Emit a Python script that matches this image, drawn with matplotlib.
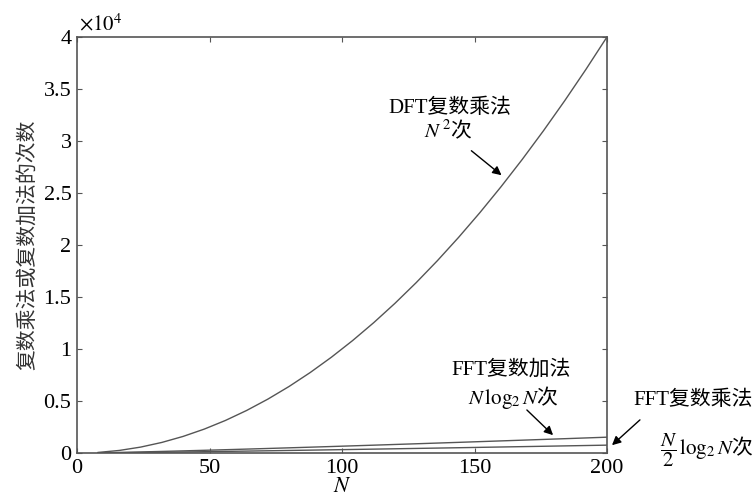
import matplotlib
matplotlib.use("Agg")
import matplotlib.pyplot as plt

plt.rcParams['font.family'] = ['Liberation Serif', 'Noto Sans CJK SC']
plt.rcParams['mathtext.fontset'] = 'stix'

N = [8, 16, 24, 32, 40, 48, 56, 64, 72, 80, 88, 96, 104, 112, 120, 128,
     136, 144, 152, 160, 168, 176, 184, 192, 200]
dft_mul = [64, 256, 576, 1024, 1600, 2304, 3136, 4096, 5184, 6400, 7744,
           9216, 10816, 12544, 14400, 16384, 18496, 20736, 23104, 25600,
           28224, 30976, 33856, 36864, 40000]
fft_add = [24, 64, 110, 160, 213, 268, 325, 384, 444, 506, 568, 632, 697,
           762, 829, 896, 964, 1032, 1102, 1172, 1242, 1313, 1384, 1456, 1529]
fft_mul = [12, 32, 55, 80, 106, 134, 163, 192, 222, 253, 284, 316, 348,
           381, 414, 448, 482, 516, 551, 586, 621, 656, 692, 728, 764]

xticks = [0, 50, 100, 150, 200]
yticks = [0, 5000, 10000, 15000, 20000, 25000, 30000, 35000, 40000]
yticklabels = ['0', '0.5', '1', '1.5', '2', '2.5', '3', '3.5', '4']

col = '#555555'
cjk = 'Noto Sans CJK SC'
fig = plt.figure(figsize=(7.55, 4.99), dpi=100)
ax = fig.add_axes([0.102, 0.092, 0.702, 0.834])
ax.plot(N, dft_mul, color=col, lw=1.0)
ax.plot(N, fft_add, color=col, lw=1.0)
ax.plot(N, fft_mul, color=col, lw=1.0)
ax.set_xlim(0, 200)
ax.set_ylim(0, 40000)
ax.set_xticks(xticks)
ax.set_yticks(yticks)
ax.set_yticklabels(yticklabels)
ax.tick_params(direction='in', length=3.5, color=col, labelsize=16, pad=4,
               top=True, right=True)
for s in ax.spines.values():
    s.set_color(col)
    s.set_linewidth(1.2)

ax.text(0.003, 1.003, r'$\times 10^4$', transform=ax.transAxes, fontsize=15,
        ha='left', va='bottom')
ax.set_xlabel('$N$', fontsize=16, labelpad=0)
ax.set_ylabel('复数乘法或复数加法的次数', fontsize=15, labelpad=4, color='#333333')

arrow = dict(arrowstyle='-|>', color='black', lw=1.0, mutation_scale=13)
ax.annotate('', xy=(161, 26540), xytext=(148, 29230), arrowprops=arrow)
ax.text(140.8, 33170, 'DFT复数乘法', fontsize=15, ha='center', va='center')
ax.text(140, 31000, '$N^{\\,2}$次', fontsize=15, ha='center', va='center',
        family=cjk)

ax.annotate('', xy=(180.4, 1540), xytext=(169, 4330), arrowprops=arrow)
ax.text(163.8, 7980, 'FFT复数加法', fontsize=15, ha='center', va='center')
ax.text(164.5, 5380, '$N\\,\\log_2 N$次', fontsize=15, ha='center',
        va='center', family=cjk)

ax.annotate('', xy=(201.1, 580), xytext=(213.2, 3370), arrowprops=arrow,
            annotation_clip=False)
ax.text(255.0, 5100, 'FFT复数乘法', fontsize=15, ha='right', va='center',
        clip_on=False)
ax.text(255.0, 300, '$\\dfrac{N}{2}\\,\\log_2 N$次', fontsize=15, ha='right',
        va='center', clip_on=False, family=cjk)

fig.savefig('out.png', dpi=100)
